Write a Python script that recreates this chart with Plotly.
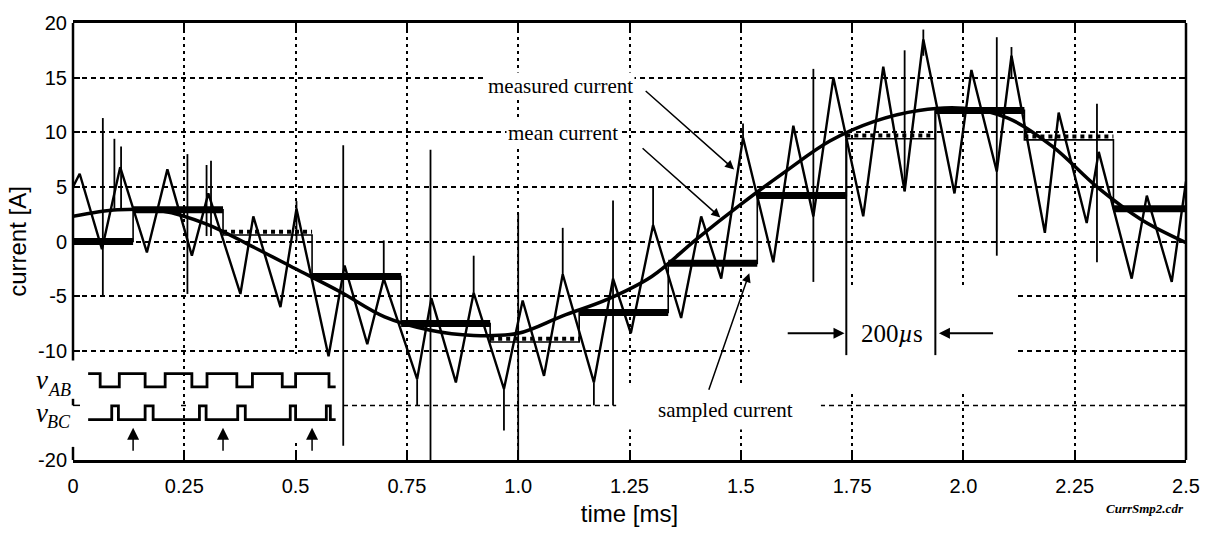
import plotly.graph_objects as go

# ---------------- data ----------------
# measured current: triangle-shaped ripple (vertices)
meas_t = [0.0, 0.015, 0.065, 0.106, 0.166, 0.212, 0.267, 0.304, 0.376, 0.405,
          0.466, 0.502, 0.574, 0.61, 0.661, 0.698, 0.773, 0.805, 0.86, 0.90,
          0.968, 1.01, 1.058, 1.10, 1.17, 1.213, 1.253, 1.303, 1.366, 1.411,
          1.456, 1.505, 1.573, 1.618, 1.663, 1.708, 1.775, 1.82, 1.868, 1.91,
          1.98, 2.018, 2.075, 2.108, 2.183, 2.214, 2.277, 2.304, 2.378, 2.412,
          2.468, 2.5]
meas_i = [5.0, 6.2, -0.7, 6.8, -1.0, 6.6, -1.3, 4.4, -4.8, 2.3,
          -6.0, 3.0, -10.5, -2.2, -9.4, -3.4, -12.6, -5.2, -12.9, -4.7,
          -13.5, -5.4, -12.3, -3.0, -12.9, -3.4, -8.4, 1.5, -7.0, 2.3,
          -3.4, 9.5, -1.9, 10.6, 2.3, 15.0, 2.3, 16.0, 4.6, 18.5,
          4.4, 15.7, 6.4, 17.0, 0.8, 11.8, 1.7, 8.2, -3.4, 4.2,
          -3.7, 5.5]
# switching spikes on the measured current
spike_t = [0.067, 0.093, 0.108, 0.257, 0.30, 0.31, 0.502, 0.607, 0.698, 0.773,
           0.803, 0.90, 0.968, 1.0, 1.10, 1.17, 1.213, 1.303, 1.505, 1.663,
           1.868, 1.91, 2.075, 2.108, 2.30]
spike_hi = [11.3, 9.4, 8.7, 8.0, 7.0, 7.4, 3.7, 8.8, 0.1, -12.6,
            8.4, -1.3, -13.5, 2.6, 1.25, -12.9, 3.75, 5.0, 10.8, 15.8,
            17.5, 19.4, 18.7, 17.8, 12.6]
spike_lo = [-5.0, 3.0, 3.0, -4.8, 0.5, 0.5, 0.0, -18.7, -3.4, -15.0,
            -20.0, -4.7, -17.3, -20.0, -3.0, -15.0, -15.0, 1.0, 9.0, -3.7,
            4.6, 17.0, -1.3, 15.0, -1.9]
# mean current
mean_t = [0.0, 0.1, 0.2, 0.3, 0.4, 0.5, 0.6, 0.7, 0.8, 0.9, 1.0, 1.1, 1.2,
          1.3, 1.4, 1.5, 1.6, 1.7, 1.8, 1.9, 2.0, 2.1, 2.2, 2.3, 2.4, 2.5]
mean_i = [2.3, 2.9, 2.8, 1.6, -0.4, -2.5, -4.6, -6.9, -8.1, -8.6, -8.4, -6.8,
          -5.3, -3.2, 0.2, 3.4, 6.4, 9.2, 11.0, 12.0, 12.2, 11.3, 8.7, 5.0,
          2.0, -0.1]
# sampled current: step edges (sampling instants) and held levels
step_t = [0.135, 0.337, 0.537, 0.737, 0.937, 1.137, 1.337, 1.537, 1.737,
          1.937, 2.137, 2.337]
step_i = [0.0, 2.9, 0.6, -3.2, -7.5, -9.2, -6.5, -2.0, 4.2, 9.4, 12.0, 9.3, 3.0]
# switching signals (lower left)
vab_t = [0.034, 0.061, 0.061, 0.104, 0.104, 0.162, 0.162, 0.207, 0.207, 0.267,
         0.267, 0.301, 0.301, 0.368, 0.368, 0.403, 0.403, 0.47, 0.47, 0.5,
         0.5, 0.575, 0.575, 0.59]
vab_v = [1, 1, 0, 0, 1, 1, 0, 0, 1, 1, 0, 0, 1, 1, 0, 0, 1, 1, 0, 0, 1, 1, 0, 0]
vbc_t = [0.034, 0.087, 0.087, 0.102, 0.102, 0.162, 0.162, 0.18, 0.18, 0.284,
         0.284, 0.299, 0.299, 0.37, 0.37, 0.387, 0.387, 0.488, 0.488, 0.50,
         0.50, 0.569, 0.569, 0.578, 0.578, 0.59]
vbc_v = [0, 0, 1, 1, 0, 0, 1, 1, 0, 0, 1, 1, 0, 0, 1, 1, 0, 0, 1, 1, 0, 0, 1, 1, 0, 0]

x_ticks = [0, 0.25, 0.5, 0.75, 1.0, 1.25, 1.5, 1.75, 2.0, 2.25, 2.5]
x_ticktext = ["0", "0.25", "0.5", "0.75", "1.0", "1.25", "1.5", "1.75", "2.0", "2.25", "2.5"]
y_ticks = [20, 15, 10, 5, 0, -5, -10, -20]
y_ticktext = ["20", "15", "10", "5", "0", "-5", "-10", "-20"]
y_hidden_tick = -15   # gridline/tick level whose label is covered by the signal sketch

Y_MIN, Y_MAX = -20, 20
X_MIN, X_MAX = 0, 2.5

# ---------------- figure ----------------
BLACK = "black"
fig = go.Figure()

# measured current
fig.add_trace(go.Scatter(x=meas_t, y=meas_i, mode="lines",
                         line=dict(color=BLACK, width=2.4), hoverinfo="skip"))
sx, sy = [], []
for t, hi, lo in zip(spike_t, spike_hi, spike_lo):
    sx += [t, t, None]
    sy += [hi, lo, None]
fig.add_trace(go.Scatter(x=sx, y=sy, mode="lines",
                         line=dict(color=BLACK, width=1.8), hoverinfo="skip"))

# sampled current: thin step line
st_x = [X_MIN] + step_t + [X_MAX]
st_y = step_i + [step_i[-1]]
fig.add_trace(go.Scatter(x=st_x, y=st_y, mode="lines", line_shape="hv",
                         line=dict(color=BLACK, width=1.6), hoverinfo="skip"))
# thick and dotted held segments
bounds = [X_MIN] + step_t + [X_MAX]
thin_segments = {2, 5, 9, 11}
tx, ty, dx, dy = [], [], [], []
for k, lvl in enumerate(step_i):
    if k in thin_segments:
        dx += [bounds[k], bounds[k + 1], None]
        dy += [lvl + 0.3, lvl + 0.3, None]
    else:
        tx += [bounds[k], bounds[k + 1], None]
        ty += [lvl, lvl, None]
fig.add_trace(go.Scatter(x=tx, y=ty, mode="lines",
                         line=dict(color=BLACK, width=7), hoverinfo="skip"))
fig.add_trace(go.Scatter(x=dx, y=dy, mode="lines",
                         line=dict(color=BLACK, width=4, dash="dot"), hoverinfo="skip"))

# mean current
fig.add_trace(go.Scatter(x=mean_t, y=mean_i, mode="lines", line_shape="spline",
                         line=dict(color=BLACK, width=3.5), hoverinfo="skip"))

# switching signals
VAB_LOW, VAB_AMP = -13.3, 1.2
VBC_LOW, VBC_AMP = -16.3, 1.25
fig.add_trace(go.Scatter(x=vab_t, y=[VAB_LOW + VAB_AMP * v for v in vab_v], mode="lines",
                         line=dict(color=BLACK, width=2.8), hoverinfo="skip"))
fig.add_trace(go.Scatter(x=vbc_t, y=[VBC_LOW + VBC_AMP * v for v in vbc_v], mode="lines",
                         line=dict(color=BLACK, width=2.8), hoverinfo="skip"))

# ---------------- shapes: grid masks and frame ----------------
shapes = []
# extra gridline at the unlabeled level (drawn below, masked like the others)
shapes.append(dict(type="line", xref="x", yref="y", x0=X_MIN, x1=X_MAX,
                   y0=y_hidden_tick, y1=y_hidden_tick,
                   line=dict(color=BLACK, width=1.5, dash="5px,4px"), layer="below"))

def mask(x0, x1, y0, y1):
    shapes.append(dict(type="rect", xref="x", yref="y", x0=x0, x1=x1, y0=y0, y1=y1,
                       fillcolor="white", line_width=0, layer="between"))
mask(0.0, 0.24, -10.3, -19.8)
mask(0.26, 0.6, -10.3, -18.2)
mask(1.52, 2.12, -4.0, -13.6)
mask(1.22, 1.68, -13.3, -17.2)

def pfrac(v):
    return (v - Y_MIN) / (Y_MAX - Y_MIN)

def vline_paper(xp, v0, v1, w=2.5):
    shapes.append(dict(type="line", xref="paper", yref="paper", x0=xp, x1=xp,
                       y0=pfrac(v0), y1=pfrac(v1),
                       line=dict(color=BLACK, width=w), layer="above"))
# right frame line and left axis line (interrupted by the signal sketch)
vline_paper(1.0, Y_MIN, Y_MAX)
vline_paper(0.0, Y_MAX, -10.9)
vline_paper(0.0, -14.4, -15.0)
vline_paper(0.0, -18.8, Y_MIN)
# inside tick marks at the unlabeled level
for xp, dxp in ((0.0, 7 / 1113), (1.0, -7 / 1113)):
    shapes.append(dict(type="line", xref="paper", yref="paper", x0=xp, x1=xp + dxp,
                       y0=pfrac(y_hidden_tick), y1=pfrac(y_hidden_tick),
                       line=dict(color=BLACK, width=1.5), layer="above"))

def seg(x0, y0, x1, y1, w=2):
    shapes.append(dict(type="line", xref="x", yref="y", x0=x0, y0=y0, x1=x1, y1=y1,
                       line=dict(color=BLACK, width=w), layer="above"))
# 200 us dimension lines
seg(step_t[8], step_i[9], step_t[8], -10.4)
seg(step_t[9], step_i[10], step_t[9], -10.4)

# ---------------- annotations ----------------
serif = "Liberation Serif, Times New Roman, serif"
ann = []
def arrow(x, y, ax, ay, w=1.5, size=1.2):
    ann.append(dict(x=x, y=y, ax=ax, ay=ay, xref="x", yref="y", axref="x", ayref="y",
                    text="", showarrow=True, arrowhead=2, arrowsize=size,
                    arrowwidth=w, arrowcolor=BLACK))
def label(x, y, text, size=21, xanchor="center", bg=None):
    d = dict(x=x, y=y, xref="x", yref="y", text=text, showarrow=False,
             xanchor=xanchor, yanchor="middle", font=dict(family=serif, size=size, color=BLACK))
    if bg:
        d["bgcolor"] = bg
    ann.append(d)

label(1.262, 14.2, "measured current", xanchor="right", bg="white")
label(1.229, 9.9, "mean current", xanchor="right", bg="white")
label(1.465, -15.45, "sampled current", bg="white")
arrow(1.485, 6.6, 1.283, 13.9)
arrow(1.454, 2.2, 1.276, 8.66)
arrow(1.519, -2.9, 1.427, -13.7)

label(1.84, -8.4, "200<i>\u00b5</i>s", size=25)
arrow(step_t[8] - 0.004, -8.4, 1.602, -8.4, w=2, size=1.1)
arrow(step_t[9] + 0.008, -8.4, 2.07, -8.4, w=2, size=1.1)

# signal names: italic v with a lowered, smaller italic subscript
for sub, v in (("AB", -12.7), ("BC", -15.7)):
    ann.append(dict(x=-0.028, y=pfrac(v), xref="paper", yref="paper", text="<i>v</i>",
                    showarrow=False, xanchor="center", yanchor="middle",
                    font=dict(family=serif, size=27, color=BLACK)))
    ann.append(dict(x=0.0, y=pfrac(v - 0.85), xref="paper", yref="paper",
                    text="<i>" + sub + "</i>", showarrow=False, xanchor="right",
                    yanchor="middle", font=dict(family=serif, size=18, color=BLACK)))
for k in range(3):
    arrow(step_t[k], -17.05, step_t[k], -19.3, w=1.5, size=1.6)

ann.append(dict(x=1.0, y=-0.11, xref="paper", yref="paper", xanchor="right", yanchor="middle",
                text="<b><i>CurrSmp2.cdr</i></b>", showarrow=False,
                font=dict(family=serif, size=13, color=BLACK)))

sans = "Liberation Sans, Arial, sans-serif"
axis_font = dict(family=sans, size=20, color=BLACK)
fig.update_layout(
    width=1215, height=536,
    margin=dict(l=73, r=29, t=15, b=73),
    paper_bgcolor="white", plot_bgcolor="white",
    showlegend=False,
    shapes=shapes, annotations=ann,
    xaxis=dict(range=[X_MIN, X_MAX], tickvals=x_ticks, ticktext=x_ticktext,
               showgrid=True, gridcolor=BLACK, gridwidth=1.5, griddash="3px,4px",
               zeroline=False, showline=True, linewidth=2.5, linecolor=BLACK, mirror="ticks",
               ticks="inside", ticklen=7, tickwidth=1.5, tickcolor=BLACK,
               tickfont=axis_font, ticklabelstandoff=6,
               title=dict(text="time [ms]", font=dict(family=sans, size=24, color=BLACK),
                          standoff=10)),
    yaxis=dict(range=[Y_MIN, Y_MAX], tickvals=y_ticks, ticktext=y_ticktext,
               showgrid=True, gridcolor=BLACK, gridwidth=1.5, griddash="5px,4px",
               zeroline=False, showline=False, ticks="inside", ticklen=7,
               tickwidth=1.5, tickcolor=BLACK, mirror="ticks",
               tickfont=axis_font, ticklabelstandoff=5,
               title=dict(text="current [A]", font=dict(family=sans, size=24, color=BLACK),
                          standoff=4)),
)

fig.write_html("out.html")
